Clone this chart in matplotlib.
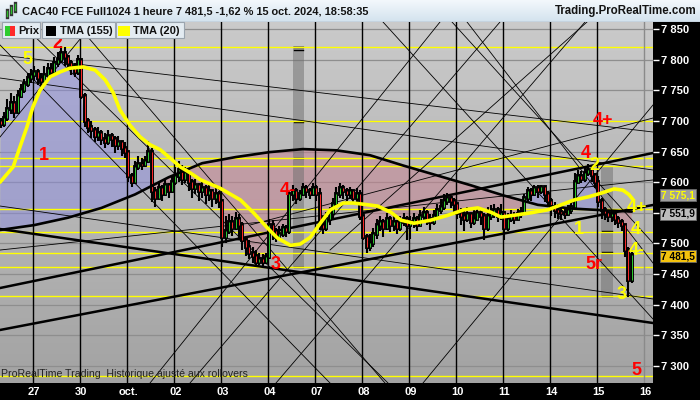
import numpy as np
import matplotlib
matplotlib.use("Agg")
import matplotlib.pyplot as plt
from matplotlib.patches import Rectangle, Polygon
from matplotlib.lines import Line2D
from matplotlib.colors import LinearSegmentedColormap
from matplotlib import transforms

plt.rcParams['font.family'] = ['Liberation Sans', 'DejaVu Sans']

# hourly bars: 26 sep 12h-21h (10 bars), then 14 bars a day, 15 oct up to 18h (11 bars)
closes = [
    7695, 7705, 7720, 7730, 7715, 7740, 7750, 7760, 7770, 7775,                     # 26 sep
    7780, 7770, 7765, 7775, 7785, 7780, 7795, 7800, 7810, 7805, 7795, 7790, 7780, 7800,  # 27
    7740, 7700, 7690, 7685, 7675, 7680, 7670, 7665, 7675, 7670, 7660, 7665, 7655, 7650,  # 30
    7610, 7600, 7625, 7630, 7628, 7635, 7650, 7585, 7575, 7590, 7580, 7595, 7585, 7600,  # 1 oct
    7610, 7620, 7605, 7615, 7600, 7590, 7595, 7585, 7590, 7580, 7585, 7575, 7580, 7570,  # 2
    7510, 7520, 7535, 7525, 7540, 7530, 7505, 7495, 7485, 7480, 7470, 7475, 7470, 7478,  # 3
    7530, 7520, 7510, 7515, 7525, 7520, 7580, 7585, 7575, 7580, 7590, 7585, 7580, 7590,  # 4
    7580, 7530, 7525, 7540, 7550, 7565, 7580, 7590, 7585, 7580, 7585, 7575, 7580, 7545,  # 7
    7510, 7495, 7500, 7515, 7530, 7535, 7525, 7540, 7530, 7535, 7525, 7535, 7540, 7530,  # 8
    7535, 7540, 7530, 7545, 7550, 7540, 7535, 7545, 7555, 7560, 7570, 7575, 7570, 7565,  # 9
    7550, 7545, 7540, 7548, 7535, 7540, 7550, 7545, 7525, 7545, 7550, 7555, 7545, 7550,  # 10
    7525, 7540, 7545, 7540, 7548, 7552, 7575, 7585, 7580, 7590, 7585, 7592, 7580, 7570,  # 11
    7560, 7555, 7552, 7550, 7548, 7555, 7560, 7600, 7610, 7605, 7615, 7620, 7612, 7600,  # 14
    7570, 7555, 7550, 7545, 7548, 7540, 7535, 7530, 7490, 7440, 7481.5,                  # 15
]
highs = [
    7705, 7715, 7735, 7745, 7740, 7750, 7760, 7768, 7778, 7785,
    7790, 7785, 7778, 7790, 7795, 7795, 7805, 7812, 7822, 7820, 7808, 7800, 7795, 7808,
    7800, 7745, 7705, 7700, 7690, 7690, 7685, 7680, 7685, 7680, 7675, 7675, 7668, 7665,
    7645, 7615, 7635, 7642, 7640, 7642, 7668, 7655, 7592, 7600, 7595, 7605, 7598, 7610,
    7625, 7635, 7628, 7625, 7618, 7605, 7605, 7598, 7600, 7595, 7595, 7588, 7590, 7585,
    7570, 7545, 7548, 7545, 7552, 7548, 7535, 7510, 7505, 7495, 7490, 7485, 7482, 7485,
    7540, 7538, 7525, 7528, 7532, 7530, 7585, 7595, 7590, 7588, 7598, 7595, 7590, 7598,
    7595, 7590, 7545, 7552, 7560, 7575, 7592, 7598, 7595, 7590, 7592, 7588, 7590, 7588,
    7545, 7515, 7515, 7525, 7540, 7545, 7540, 7550, 7545, 7545, 7538, 7545, 7550, 7545,
    7545, 7550, 7545, 7555, 7560, 7555, 7548, 7555, 7565, 7572, 7580, 7582, 7578, 7575,
    7565, 7558, 7555, 7560, 7550, 7555, 7560, 7558, 7550, 7560, 7562, 7565, 7560, 7565,
    7552, 7550, 7555, 7552, 7556, 7560, 7580, 7592, 7590, 7595, 7595, 7596, 7592, 7585,
    7575, 7568, 7565, 7560, 7558, 7562, 7568, 7615, 7620, 7618, 7625, 7630, 7625, 7615,
    7610, 7575, 7560, 7555, 7555, 7552, 7545, 7540, 7532, 7495, 7490,
]
lows = [
    7688, 7690, 7700, 7712, 7705, 7712, 7738, 7745, 7755, 7762,
    7765, 7758, 7755, 7762, 7770, 7770, 7775, 7788, 7795, 7790, 7785, 7775, 7772, 7775,
    7735, 7690, 7680, 7672, 7665, 7668, 7660, 7655, 7660, 7658, 7648, 7652, 7642, 7640,
    7600, 7592, 7598, 7620, 7620, 7625, 7632, 7568, 7560, 7572, 7570, 7578, 7575, 7582,
    7595, 7600, 7595, 7598, 7585, 7575, 7580, 7570, 7575, 7565, 7570, 7560, 7565, 7558,
    7495, 7500, 7515, 7512, 7522, 7505, 7490, 7480, 7475, 7468, 7462, 7465, 7462, 7466,
    7475, 7505, 7502, 7505, 7510, 7510, 7515, 7570, 7565, 7570, 7578, 7575, 7572, 7578,
    7570, 7522, 7515, 7520, 7530, 7542, 7560, 7575, 7572, 7570, 7572, 7565, 7568, 7538,
    7505, 7484, 7488, 7495, 7508, 7520, 7510, 7522, 7518, 7520, 7515, 7520, 7528, 7505,
    7508, 7525, 7520, 7528, 7535, 7530, 7522, 7530, 7540, 7548, 7555, 7562, 7558, 7550,
    7540, 7530, 7520, 7535, 7525, 7530, 7538, 7530, 7505, 7520, 7538, 7542, 7535, 7538,
    7505, 7520, 7535, 7532, 7538, 7542, 7550, 7570, 7570, 7578, 7575, 7580, 7568, 7560,
    7545, 7542, 7540, 7538, 7540, 7545, 7548, 7555, 7598, 7598, 7600, 7610, 7600, 7590,
    7560, 7540, 7538, 7535, 7535, 7530, 7525, 7520, 7478, 7413, 7435,
]
first_open = 7700

# moving averages (bar index, value)
tma155_t = [-0.2, 10, 20, 30, 40, 50, 60, 70, 80, 90, 100, 110, 120, 130, 140, 150, 160, 170, 180, 188]
tma155_v = [7522, 7530, 7542, 7558, 7580, 7608, 7631, 7641, 7649, 7654, 7652, 7644, 7627, 7611,
            7595, 7578, 7563, 7557, 7554, 7552]
tma20_t = [-0.2, 3.7, 5.7, 7.8, 9.6, 11.7, 14.7, 17.7, 20.6, 24.5, 28.1, 31.1, 33.5, 35.5, 38.5,
           41.5, 44.5, 47.5, 50.5, 53.5, 56.5, 59.5, 65.4, 71.4, 75.3, 79.5, 82.4, 86.3, 89.2,
           92.2, 95.2, 98.2, 102.1, 105.1, 108.1, 112.3, 116.2, 119.2, 123.1, 128.1, 133.2,
           138.0, 142.1, 146.0, 149.0, 152.9, 157.9, 163.0, 166.9, 170.8, 175.0, 178.8, 182.7,
           185.3, 187.1, 188.3]
tma20_v = [7600, 7625, 7657, 7690, 7723, 7750, 7772, 7780, 7786, 7788, 7783, 7767, 7746, 7718,
           7693, 7674, 7661, 7653, 7639, 7625, 7615, 7604, 7590, 7571, 7550, 7525, 7509, 7497,
           7499, 7510, 7533, 7555, 7566, 7566, 7564, 7561, 7551, 7538, 7533, 7538, 7546, 7555,
           7558, 7551, 7543, 7546, 7550, 7555, 7563, 7571, 7576, 7582, 7589, 7587, 7580, 7572]

levels = [7820, 7700, 7639, 7627, 7556, 7519.5, 7484, 7462, 7414, 7283]

day_labels = ['27', '30', 'oct.', '02', '03', '04', '07', '08', '09', '10', '11', '14', '15', '16']

# drawn trend lines (t0, p0, t1, p1)
thick_lines = [
    (-0.22, 7523.6, 194.3, 7370.2),
    (-0.22, 7427.3, 194.3, 7647.6),
    (-0.22, 7358.8, 194.3, 7562.8),
]
thin_lines = [
    (-0.22, 7807.6, 194.3, 7681.9),
    (-0.22, 7770.0, 194.3, 7619.9),
    (-0.22, 7561.1, 194.3, 7409.4),
    (74.25, 7530.1, 194.3, 7704.7),
    (-0.22, 7489.3, 194.3, 7603.6),
    (-0.22, 7823.9, 98.08, 7272.3),
    (5.74, 7861.4, 115.36, 7272.3),
    (22.12, 7861.4, 114.46, 7272.3),
    (113.87, 7861.4, 194.3, 7376.7),
    (134.43, 7861.4, 194.3, 7500.7),
    (138.9, 7861.4, 194.3, 7468.1),
    (44.47, 7272.3, 130.85, 7861.4),
    (82.0, 7272.3, 174.04, 7861.4),
    (125.79, 7272.3, 194.3, 7726.0),
    (-0.22, 7673.7, 27.78, 7861.4),
    (56.38, 7272.3, 148.72, 7861.4),
    (98.08, 7489.3, 174.64, 7861.4),
]

# projection columns (t0, t1, top, bottom, tick prices)
columns = [
    (87.1, 90.4, 7822, 7460, [7820, 7816, 7699, 7640, 7462]),
    (178.8, 182.4, 7625, 7413, [7521, 7486, 7414]),
]

wave_text = ['5', '2', '1', '3', '4-', '4+', '4', '2', '1', '4+', '4', '4-', '5r', '3', '5']
wave_t = [8.1, 16.8, 12.9, 82.0, 85.6, 179.4, 174.3, 176.7, 172.2, 189.5, 189.2, 189.5, 176.7, 185.1, 189.5]
wave_p = [7801, 7827, 7643, 7465, 7586, 7701, 7646, 7627, 7522, 7558, 7522, 7488, 7465, 7416, 7292]
wave_col = ['y', 'r', 'r', 'r', 'r', 'r', 'r', 'y', 'y', 'y', 'y', 'y', 'r', 'y', 'r']

YEL = '#ffff00'
RED = '#ff0000'

fig = plt.figure(figsize=(7, 4), dpi=100)
fig.patch.set_facecolor('black')

# header bar
hax = fig.add_axes([0, 1 - 22 / 400, 1, 22 / 400])
hcm = LinearSegmentedColormap.from_list('hdr', ['#d3e2ee', '#f3f8fc'])
hax.imshow(np.linspace(0, 1, 50).reshape(-1, 1), cmap=hcm, aspect='auto',
           extent=[0, 1, 0, 1], origin='lower')
hax.axhline(0.02, color='#8d9aa6', lw=1)
hax.set_xlim(0, 1)
hax.set_ylim(0, 1)
hax.axis('off')

# main chart
ax = fig.add_axes([0, 17 / 400, 653 / 700, 361 / 400])
x0, x1 = -0.22, 194.3
y0, y1 = 7272.3, 7861.4
bcm = LinearSegmentedColormap.from_list('bg', ['#a3a3a3', '#cacaca'])
ax.imshow(np.linspace(0, 1, 100).reshape(-1, 1), cmap=bcm, aspect='auto',
          extent=[x0, x1, y0, y1], origin='lower', zorder=0)
ax.set_xlim(x0, x1)
ax.set_ylim(y0, y1)
for s in ax.spines.values():
    s.set_visible(False)

yt = np.arange(7300, 7851, 50)
for v in yt:
    ax.axhline(v, color='#8e8e8e', lw=0.9, zorder=1)

t = np.arange(len(closes))
opens = np.array([first_open] + closes[:-1])
cl = np.array(closes)

# zone between close and TMA(155)
zone = list(zip(t, cl)) + list(zip(tma155_t[::-1], tma155_v[::-1]))
above = Polygon(list(zip(tma155_t, tma155_v)) + [(tma155_t[-1], y1 + 500), (tma155_t[0], y1 + 500)],
                transform=ax.transData)
below = Polygon(list(zip(tma155_t, tma155_v)) + [(tma155_t[-1], y0 - 500), (tma155_t[0], y0 - 500)],
                transform=ax.transData)
blue = Polygon(zone, fc=(140 / 255, 140 / 255, 225 / 255, 0.5), ec='none', zorder=1.5)
pink = Polygon(zone, fc=(200 / 255, 130 / 255, 145 / 255, 0.52), ec='none', zorder=1.5)
ax.add_patch(blue)
ax.add_patch(pink)
blue.set_clip_path(above)
pink.set_clip_path(below)

# projection columns
for c0, c1, top, bot, ticks in columns:
    ax.add_patch(Rectangle((c0, bot), c1 - c0, top - bot, fc='#6e6e6e', alpha=0.5,
                           ec='none', zorder=1.6))
    for p in ticks:
        ax.plot([c0 + 0.3, c1 - 0.3], [p, p], color='black', lw=1.0, zorder=1.7)

for lv in levels:
    ax.axhline(lv, color=YEL, lw=1.0, zorder=2)

day_t = [10 + 14 * d for d in range(len(day_labels))]
for i, d in enumerate(day_t):
    ax.axvline(d - 0.5, color='black' if i < len(day_t) - 1 else '#8a8a8a', lw=1.0, zorder=2.2)

for a, b, c, d in thin_lines:
    ax.plot([a, c], [b, d], color='black', lw=0.6, zorder=2.4)
for a, b, c, d in thick_lines:
    ax.plot([a, c], [b, d], color='black', lw=1.8, zorder=2.5)

# candles
bl = np.minimum(opens, cl)
bh = np.maximum(opens, cl)
ax.vlines(t, lows, highs, color='black', lw=1.5, zorder=3)
ax.vlines(t, bl, bh, color='black', lw=2.8, zorder=3.1, capstyle='projecting')
up = cl >= opens
ax.vlines(t[up], bl[up], bh[up], color='#2ecc2e', lw=0.7, zorder=3.2)
ax.vlines(t[~up], bl[~up], bh[~up], color='#ff2a2a', lw=0.7, zorder=3.2)

ax.plot(tma155_t, tma155_v, color='black', lw=1.9, zorder=3.5, solid_capstyle='round')
ax.plot(tma20_t, tma20_v, color=YEL, lw=2.6, zorder=4, solid_capstyle='round',
        solid_joinstyle='round')

for s, tt, pp, c in zip(wave_text, wave_t, wave_p, wave_col):
    ax.text(tt, pp, s, color=YEL if c == 'y' else RED, fontsize=13, fontweight='bold',
            ha='center', va='center', zorder=6)

ax.text(0.004, 7287, 'ProRealTime Trading  Historique ajusté aux rollovers', fontsize=7.6,
        color='#222222', ha='left', va='center', zorder=6)

# axes: the 7 550 label sits under the price boxes, so it is left blank
ax.yaxis.tick_right()
ax.set_yticks(yt)
ax.set_yticklabels(['' if v == 7550 else '7 %03d' % (v - 7000) for v in yt])
ax.tick_params(axis='y', direction='out', length=4, width=1, color='white', pad=2,
               labelsize=8, labelcolor='white')
ax.set_xticks(day_t)
ax.set_xticklabels(day_labels)
ax.tick_params(axis='x', length=0, pad=3, labelsize=8, labelcolor='white')
for lab in ax.get_yticklabels() + ax.get_xticklabels():
    lab.set_fontweight('bold')

# price boxes on the right scale
tr = transforms.blended_transform_factory(fig.transFigure, ax.transData)
boxes = [('7 575,1', 7578.5, '#9e9e9e', YEL), ('7 551,9', 7548.5, '#bdbdbd', 'black'),
         ('7 481,5', 7479.0, '#f4c20d', 'black')]
for s, v, bg, fg in boxes:
    ax.text(661 / 700, v, s, transform=tr, fontsize=7.3, fontweight='bold', color=fg,
            ha='left', va='center', clip_on=False, zorder=7,
            bbox=dict(boxstyle='square,pad=0.1', fc=bg, ec='#6a6a6a', lw=0.6))

# header texts
fig.text(22 / 700, 1 - 11 / 400, 'CAC40 FCE Full1024 1 heure 7 481,5 -1,62 % 15 oct. 2024, 18:58:35',
         fontsize=7.9, fontweight='bold', color='#141414', va='center', ha='left')
fig.text(697 / 700, 1 - 11 / 400, 'Trading.ProRealTime.com', fontsize=8.3, fontweight='bold',
         color='#141414', va='center', ha='right')
for xx, ya, yb, col in [(7, 10, 17, '#2ebd2e'), (11, 6, 14, '#2ebd2e'), (15, 3, 11, '#2ebd2e')]:
    fig.add_artist(Line2D([xx / 700, xx / 700], [1 - ya / 400, 1 - yb / 400], color='#333333', lw=2.4))
    fig.add_artist(Line2D([xx / 700, xx / 700], [1 - (ya + 1) / 400, 1 - (yb - 1) / 400], color=col, lw=1.0))

# legend boxes
legend = [(2, 40, 'Prix', 18), (42, 115, 'TMA (155)', 60), (116, 184, 'TMA (20)', 133)]
for xa, xb, s, xt in legend:
    fig.add_artist(Rectangle((xa / 700, 1 - 38 / 400), (xb - xa) / 700, 16 / 400,
                             fc='#e3ebf1', ec='#9aa4ae', lw=0.8, zorder=10))
    fig.text(xt / 700, 1 - 30.5 / 400, s, fontsize=8, fontweight='bold', color='#111111',
             va='center', ha='left', zorder=11)
icons = [(5, 10, '#2ecc2e'), (10, 15, '#ff2a2a'), (46, 56, 'black'), (118, 130, YEL)]
for xa, xb, col in icons:
    fig.add_artist(Rectangle((xa / 700, 1 - 36 / 400), (xb - xa) / 700, 10 / 400,
                             fc=col, ec='none', zorder=11))

fig.savefig('out.png', dpi=100, facecolor='black')
